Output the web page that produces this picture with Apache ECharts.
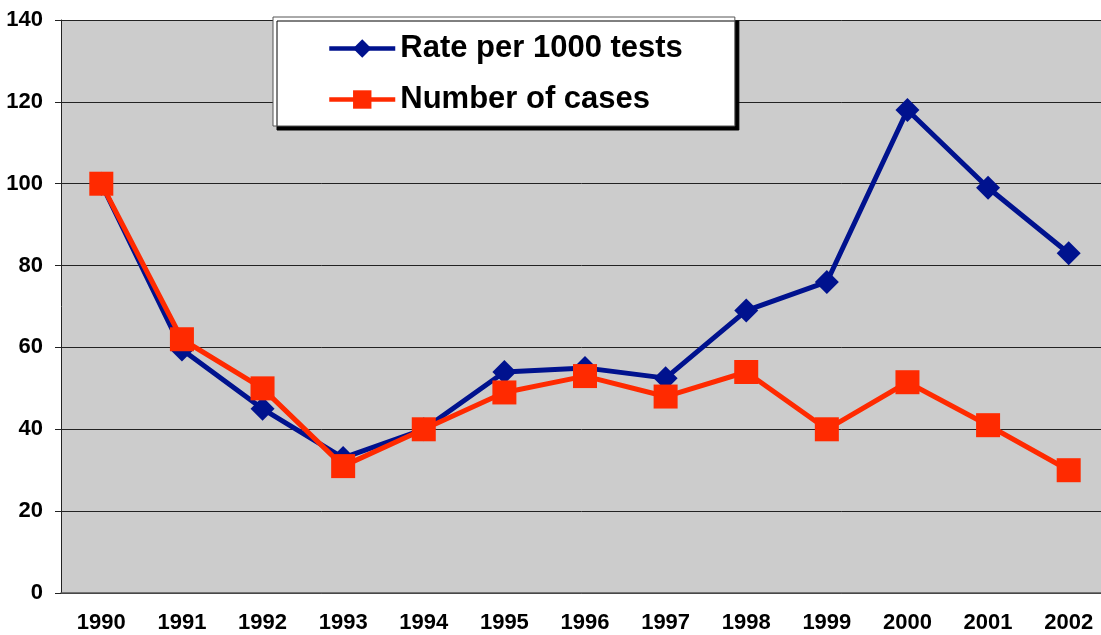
<!DOCTYPE html>
<html>
<head>
<meta charset="utf-8">
<script src="https://cdn.jsdelivr.net/npm/echarts@6/dist/echarts.min.js"></script>
<style>
  html, body { margin: 0; padding: 0; background: #fff; }
  #chart { width: 1101px; height: 635px; }
</style>
</head>
<body>
<div id="chart"></div>
<script>
  const years = ['1990', '1991', '1992', '1993', '1994', '1995', '1996', '1997', '1998', '1999', '2000', '2001', '2002'];
  const ratePer1000 = [100, 59.5, 45, 33, 40, 54, 55, 52.5, 69, 76, 118, 99, 83];
  const numberOfCases = [100, 62, 50, 31, 40, 49, 53, 48, 54, 40, 51.5, 41, 30];

  const font = 'Arial, "Liberation Sans", sans-serif';
  let myChart = echarts.init(document.getElementById('chart'));
  let option = {
    backgroundColor: '#fff',
    animation: false,
    legend: {
      orient: 'vertical',
      left: 273,
      top: 17,
      padding: [16, 52, 11, 54],
      itemWidth: 66,
      itemHeight: 23,
      itemGap: 20,
      backgroundColor: '#fff',
      borderColor: '#555',
      borderWidth: 1,
      borderRadius: 0,
      shadowColor: '#000',
      shadowBlur: 0,
      shadowOffsetX: 4,
      shadowOffsetY: 4,
      lineStyle: { width: 4.5 },
      textStyle: { fontFamily: font, fontWeight: 'bold', fontSize: 31, color: '#000' },
      data: ['Rate per 1000 tests', 'Number of cases']
    },
    grid: {
      left: 61,
      top: 20,
      right: -8,
      bottom: 42,
      containLabel: false,
      outerBoundsMode: 'none',
      show: true,
      backgroundColor: '#cccccc',
      borderWidth: 0
    },
    xAxis: {
      type: 'category',
      data: years,
      boundaryGap: true,
      axisLine: { lineStyle: { color: '#555', width: 1.5 } },
      axisTick: { length: 6, lineStyle: { color: '#222' } },
      axisLabel: { margin: 19, fontFamily: font, fontWeight: 'bold', fontSize: 22, color: '#000' }
    },
    yAxis: {
      type: 'value',
      min: 0,
      max: 140,
      interval: 20,
      axisLine: { show: true, lineStyle: { color: '#222', width: 1 } },
      axisTick: { show: true, length: 6, lineStyle: { color: '#222' } },
      splitLine: { lineStyle: { color: '#222', width: 1 } },
      axisLabel: { margin: 18, fontFamily: font, fontWeight: 'bold', fontSize: 22, color: '#000' }
    },
    series: [
      {
        name: 'Rate per 1000 tests',
        type: 'line',
        data: ratePer1000,
        symbol: 'diamond',
        symbolSize: 24,
        lineStyle: { color: '#00128e', width: 5 },
        itemStyle: { color: '#00128e' }
      },
      {
        name: 'Number of cases',
        type: 'line',
        data: numberOfCases,
        symbol: 'rect',
        symbolSize: 24,
        lineStyle: { color: '#ff2a00', width: 5 },
        itemStyle: { color: '#ff2a00' }
      }
    ]
  };
  option && myChart.setOption(option);
</script>
</body>
</html>
